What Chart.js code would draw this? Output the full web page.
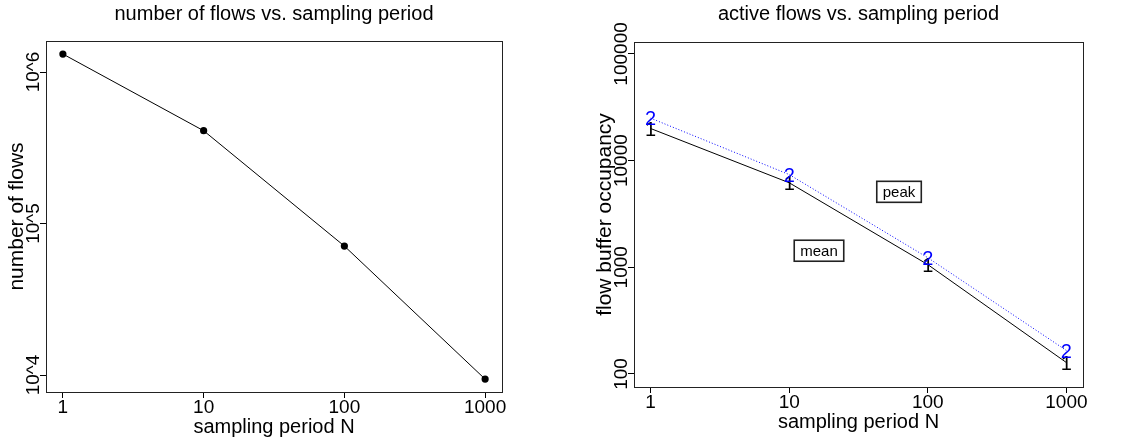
<!DOCTYPE html>
<html>
<head>
<meta charset="utf-8">
<script src="https://cdn.jsdelivr.net/npm/chart.js@4.4.0/dist/chart.umd.min.js"></script>
<style>
  html, body { margin: 0; padding: 0; background: #fff; }
  #wrap { position: relative; width: 1140px; height: 437px; }
  canvas { position: absolute; top: 0; }
</style>
</head>
<body>
<div id="wrap">
  <canvas id="flowsChart" width="570" height="437" style="left:0"></canvas>
  <canvas id="activeChart" width="570" height="437" style="left:570px"></canvas>
</div>
<script>
// axe x commun : période d'échantillonnage N
const samplingPeriods = [1, 10, 100, 1000];
const xTickValues = [1, 10, 100, 1000];
const xTickLabels = ['1', '10', '100', '1000'];

// panneau gauche : nombre de flux
const numberOfFlows = [1315000, 410000, 71000, 9400];
const flowsTickValues = [1e4, 1e5, 1e6];
const flowsTickLabels = ['10^4', '10^5', '10^6'];

// panneau droit : occupation du buffer (1 = mean, 2 = peak)
const meanOccupancy = [20000, 6200, 1060, 128];
const peakOccupancy = [25000, 7400, 1230, 166];
const occupancyTickValues = [100, 1000, 10000, 100000];
const occupancyTickLabels = ['100', '1000', '10000', '100000'];

// étiquettes encadrées (coordonnées données)
const boxLabelTexts = ['peak', 'mean'];
const boxLabelX = [62, 16.4];
const boxLabelY = [5100, 1430];

const FONT = '"Liberation Sans", Arial, Helvetica, sans-serif';

// symboles "1" / "2" aux points, comme matplot
const glyphPlugin = {
    id: 'glyphs',
    afterDatasetsDraw(chart) {
        const ctx = chart.ctx;
        ctx.save();
        ctx.font = '20px ' + FONT;
        ctx.textAlign = 'center';
        ctx.textBaseline = 'alphabetic';
        chart.data.datasets.forEach((ds, i) => {
            if (!ds.glyph) return;
            ctx.fillStyle = ds.borderColor;
            chart.getDatasetMeta(i).data.forEach(pt => {
                ctx.fillText(ds.glyph, pt.x, pt.y + 7.2);
            });
        });
        ctx.restore();
    }
};

// axes, titres et cadre façon R
function rStyle(opts) {
    return {
        id: 'rStyle',
        afterDraw(chart) {
            const ctx = chart.ctx;
            const a = chart.chartArea;
            const xs = chart.scales.x;
            const ys = chart.scales.y;
            ctx.save();

            ctx.strokeStyle = '#222';
            ctx.lineWidth = 1;
            ctx.strokeRect(Math.round(a.left) + 0.5, Math.round(a.top) + 0.5,
                Math.round(a.right - a.left), Math.round(a.bottom - a.top));

            ctx.fillStyle = '#000';
            ctx.font = '19px ' + FONT;
            ctx.textAlign = 'center';
            ctx.textBaseline = 'alphabetic';
            xTickValues.forEach((v, i) => {
                ctx.fillText(xTickLabels[i], xs.getPixelForValue(v), a.bottom + 21);
            });
            opts.yTickValues.forEach((v, i) => {
                ctx.save();
                ctx.translate(a.left - 7, ys.getPixelForValue(v));
                ctx.rotate(-Math.PI / 2);
                ctx.fillText(opts.yTickLabels[i], 0, 0);
                ctx.restore();
            });

            ctx.font = '20px ' + FONT;
            const midX = (a.left + a.right) / 2;
            ctx.fillText(opts.title, midX, 20);
            ctx.fillText('sampling period N', midX, a.bottom + 41);
            ctx.font = '21px ' + FONT;
            ctx.save();
            ctx.translate(a.left - 23, (a.top + a.bottom) / 2);
            ctx.rotate(-Math.PI / 2);
            ctx.fillText(opts.yTitle, 0, 0);
            ctx.restore();

            if (opts.boxes) {
                ctx.font = '15px ' + FONT;
                ctx.textBaseline = 'middle';
                boxLabelTexts.forEach((t, i) => {
                    const px = xs.getPixelForValue(boxLabelX[i]);
                    const py = ys.getPixelForValue(boxLabelY[i]);
                    const w = ctx.measureText(t).width + 12;
                    const h = 21;
                    ctx.fillStyle = '#fff';
                    ctx.fillRect(px - w / 2, py - h / 2, w, h);
                    ctx.strokeStyle = '#222';
                    ctx.lineWidth = 1.6;
                    ctx.strokeRect(px - w / 2, py - h / 2, w, h);
                    ctx.fillStyle = '#000';
                    ctx.fillText(t, px, py + 1);
                });
            }
            ctx.restore();
        }
    };
}

function logAxis(min, max, tickValues, horizontal) {
    return {
        type: 'logarithmic',
        min: min,
        max: max,
        afterBuildTicks: s => { s.ticks = tickValues.map(v => ({ value: v })); },
        afterFit: s => { if (horizontal) { s.height = 0; } else { s.width = 0; } },
        ticks: { display: false },
        grid: { drawOnChartArea: false, drawTicks: true, tickLength: 6, color: '#000', lineWidth: 1 },
        border: { display: false }
    };
}

const points = ys => samplingPeriods.map((x, i) => ({ x: x, y: ys[i] }));

new Chart(document.getElementById('flowsChart'), {
    type: 'line',
    data: {
        datasets: [{
            label: 'number of flows',
            data: points(numberOfFlows),
            borderColor: '#000',
            borderWidth: 1,
            pointRadius: 3.6,
            pointBackgroundColor: '#000',
            pointBorderWidth: 0,
            tension: 0
        }]
    },
    options: {
        responsive: false,
        animation: false,
        layout: { padding: { left: 46, top: 41, right: 68, bottom: 45 } },
        scales: {
            x: logAxis(0.7586, 1318, xTickValues, true),
            y: logAxis(7727, 1603000, flowsTickValues, false)
        },
        plugins: { legend: { display: false }, tooltip: { enabled: false } }
    },
    plugins: [rStyle({
        title: 'number of flows vs. sampling period',
        yTitle: 'number of flows',
        yTickValues: flowsTickValues,
        yTickLabels: flowsTickLabels
    })]
});

new Chart(document.getElementById('activeChart'), {
    type: 'line',
    data: {
        datasets: [
            {
                label: 'mean',
                glyph: '1',
                data: points(meanOccupancy),
                borderColor: '#000',
                borderWidth: 1,
                pointRadius: 0
            },
            {
                label: 'peak',
                glyph: '2',
                data: points(peakOccupancy),
                borderColor: '#0000ff',
                borderWidth: 1,
                borderDash: [1, 2],
                pointRadius: 0
            }
        ]
    },
    options: {
        responsive: false,
        animation: false,
        layout: { padding: { left: 64, top: 42, right: 57, bottom: 50 } },
        scales: {
            x: logAxis(0.7586, 1318, xTickValues, true),
            y: logAxis(75.5, 129400, occupancyTickValues, false)
        },
        plugins: { legend: { display: false }, tooltip: { enabled: false } }
    },
    plugins: [glyphPlugin, rStyle({
        title: 'active flows vs. sampling period',
        yTitle: 'flow buffer occupancy',
        yTickValues: occupancyTickValues,
        yTickLabels: occupancyTickLabels,
        boxes: true
    })]
});
</script>
</body>
</html>
